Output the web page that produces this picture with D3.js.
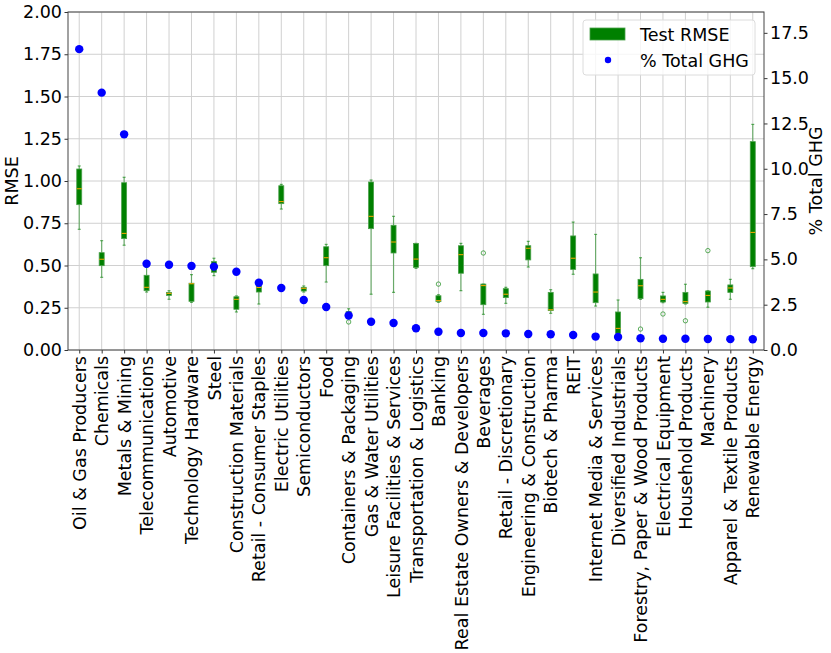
<!DOCTYPE html>
<html>
<head>
<meta charset="utf-8">
<script src="https://cdn.jsdelivr.net/npm/d3@7"></script>
<style>
  body { margin: 0; background: #fff; }
  text { font-family: "DejaVu Sans", sans-serif; }
</style>
</head>
<body>
<svg id="chart" width="831" height="653"></svg>
<script>
// sector names, in plotted order
var categories = [
  "Oil & Gas Producers", "Chemicals", "Metals & Mining", "Telecommunications",
  "Automotive", "Technology Hardware", "Steel", "Construction Materials",
  "Retail - Consumer Staples", "Electric Utilities", "Semiconductors", "Food",
  "Containers & Packaging", "Gas & Water Utilities", "Leisure Facilities & Services",
  "Transportation & Logistics", "Banking", "Real Estate Owners & Developers",
  "Beverages", "Retail - Discretionary", "Engineering & Construction",
  "Biotech & Pharma", "REIT", "Internet Media & Services", "Diversified Industrials",
  "Forestry, Paper & Wood Products", "Electrical Equipment", "Household Products",
  "Machinery", "Apparel & Textile Products", "Renewable Energy"
];

// box plot stats for test RMSE
var whiskerLow = [0.714, 0.43, 0.62, 0.343, 0.30, 0.282, 0.44, 0.225, 0.272, 0.834, 0.343, 0.402,
  0.19, 0.33, 0.341, 0.483, 0.282, 0.351, 0.211, 0.276, 0.491, 0.217, 0.448, 0.26, 0.08,
  0.30, 0.28, 0.272, 0.253, 0.30, 0.481];
var q1 = [0.86, 0.499, 0.659, 0.351, 0.323, 0.288, 0.46, 0.241, 0.343, 0.866, 0.349, 0.499,
  0.207, 0.718, 0.574, 0.489, 0.286, 0.454, 0.268, 0.31, 0.533, 0.233, 0.477, 0.28, 0.099,
  0.304, 0.284, 0.276, 0.284, 0.341, 0.493];
var medians = [0.954, 0.537, 0.69, 0.371, 0.335, 0.392, 0.49, 0.30, 0.37, 0.878, 0.365, 0.546,
  0.22, 0.791, 0.639, 0.538, 0.292, 0.564, 0.381, 0.33, 0.602, 0.238, 0.543, 0.343, 0.128,
  0.38, 0.30, 0.286, 0.323, 0.367, 0.696];
var q3 = [1.071, 0.576, 0.99, 0.442, 0.341, 0.395, 0.523, 0.315, 0.379, 0.972, 0.371, 0.611,
  0.227, 0.994, 0.738, 0.63, 0.321, 0.617, 0.39, 0.363, 0.617, 0.341, 0.675, 0.45, 0.225,
  0.418, 0.32, 0.341, 0.349, 0.385, 1.233];
var whiskerHigh = [1.089, 0.647, 1.022, 0.49, 0.351, 0.446, 0.543, 0.32, 0.385, 0.98, 0.379, 0.625,
  0.244, 1.006, 0.791, 0.631, 0.327, 0.631, 0.39, 0.371, 0.643, 0.357, 0.757, 0.684, 0.296,
  0.546, 0.341, 0.389, 0.351, 0.418, 1.335];
var fliers = [[], [], [], [], [], [], [], [], [], [], [], [],
  [0.166], [], [], [], [0.39], [], [0.574], [], [], [], [], [], [],
  [0.124], [0.213], [0.173], [0.588], [], []];

// share of total emissions, right axis
var ghg = [16.6, 14.2, 11.9, 4.76, 4.7, 4.64, 4.6, 4.32, 3.71, 3.42, 2.76, 2.37,
  1.9, 1.56, 1.49, 1.2, 1.01, 0.94, 0.94, 0.92, 0.88, 0.87, 0.83, 0.74, 0.72,
  0.65, 0.62, 0.62, 0.61, 0.6, 0.59];

var leftTicks = [0, 0.25, 0.5, 0.75, 1.0, 1.25, 1.5, 1.75, 2.0];
var rightTicks = [0, 2.5, 5, 7.5, 10, 12.5, 15, 17.5];

/* ========================================================================== */

var svg = d3.select("#chart");
var plotLeft = 68, plotRight = 764, plotTop = 12, plotBottom = 350;
var green = "#008000";
var fontSize = "17.5px";

var x = d3.scalePoint()
    .domain(categories)
    .range([plotLeft, plotRight])
    .padding(0.5);

var y = d3.scaleLinear().domain([0, 2]).range([plotBottom, plotTop]);
var y2 = d3.scaleLinear().domain([0, 18.65]).range([plotBottom, plotTop]);

// grid
var grid = svg.append("g");
grid.selectAll(".vgrid").data(categories).enter().append("line")
    .attr("x1", function (d) { return x(d); })
    .attr("x2", function (d) { return x(d); })
    .attr("y1", plotTop).attr("y2", plotBottom)
    .attr("stroke", "#d0d0d0").attr("stroke-width", 1);
grid.selectAll(".hgrid").data(leftTicks).enter().append("line")
    .attr("x1", plotLeft).attr("x2", plotRight)
    .attr("y1", function (d) { return y(d); })
    .attr("y2", function (d) { return y(d); })
    .attr("stroke", "#d0d0d0").attr("stroke-width", 1);

// boxes
var boxW = 5, capW = 3;
var boxes = svg.append("g").selectAll("g").data(categories).enter().append("g");

boxes.append("line")
    .attr("x1", function (d) { return x(d); })
    .attr("x2", function (d) { return x(d); })
    .attr("y1", function (d, i) { return y(whiskerLow[i]); })
    .attr("y2", function (d, i) { return y(q1[i]); })
    .attr("stroke", green).attr("stroke-opacity", 0.5).attr("stroke-width", 1.2);
boxes.append("line")
    .attr("x1", function (d) { return x(d); })
    .attr("x2", function (d) { return x(d); })
    .attr("y1", function (d, i) { return y(q3[i]); })
    .attr("y2", function (d, i) { return y(whiskerHigh[i]); })
    .attr("stroke", green).attr("stroke-opacity", 0.5).attr("stroke-width", 1.2);

[whiskerLow, whiskerHigh].forEach(function (arr) {
    boxes.append("line")
        .attr("x1", function (d) { return x(d) - capW / 2; })
        .attr("x2", function (d) { return x(d) + capW / 2; })
        .attr("y1", function (d, i) { return y(arr[i]); })
        .attr("y2", function (d, i) { return y(arr[i]); })
        .attr("stroke", green).attr("stroke-opacity", 0.6).attr("stroke-width", 1.2);
});

boxes.append("rect")
    .attr("x", function (d) { return x(d) - boxW / 2; })
    .attr("width", boxW)
    .attr("y", function (d, i) { return y(q3[i]); })
    .attr("height", function (d, i) { return Math.max(1, y(q1[i]) - y(q3[i])); })
    .attr("fill", green)
    .attr("stroke", "#4aa04a").attr("stroke-width", 0.8);

boxes.append("line")
    .attr("x1", function (d) { return x(d) - boxW / 2; })
    .attr("x2", function (d) { return x(d) + boxW / 2; })
    .attr("y1", function (d, i) { return y(medians[i]); })
    .attr("y2", function (d, i) { return y(medians[i]); })
    .attr("stroke", "#ffa500").attr("stroke-width", 1);

boxes.each(function (d, i) {
    d3.select(this).selectAll("circle").data(fliers[i]).enter().append("circle")
        .attr("cx", x(d))
        .attr("cy", function (v) { return y(v); })
        .attr("r", 2.2)
        .attr("fill", "none")
        .attr("stroke", green).attr("stroke-opacity", 0.7).attr("stroke-width", 0.9);
});

// GHG dots
svg.append("g").selectAll("circle").data(categories).enter().append("circle")
    .attr("cx", function (d) { return x(d); })
    .attr("cy", function (d, i) { return y2(ghg[i]); })
    .attr("r", 4.2)
    .attr("fill", "#0000ff");

// axes
var leftAxis = svg.append("g")
    .attr("transform", "translate(" + plotLeft + ",0)")
    .call(d3.axisLeft(y).tickValues(leftTicks).tickFormat(d3.format(".2f")).tickSize(3.5));
var rightAxis = svg.append("g")
    .attr("transform", "translate(" + plotRight + ",0)")
    .call(d3.axisRight(y2).tickValues(rightTicks).tickFormat(d3.format(".1f")).tickSize(3.5));
var bottomAxis = svg.append("g")
    .attr("transform", "translate(0," + plotBottom + ")")
    .call(d3.axisBottom(x).tickSize(3.5));

[leftAxis, rightAxis, bottomAxis].forEach(function (a) {
    a.select(".domain").remove();
    a.selectAll("line").attr("stroke", "#000").attr("stroke-width", 0.8);
    a.selectAll("text").attr("font-size", fontSize).attr("fill", "#000")
        .attr("font-family", "DejaVu Sans");
});
leftAxis.selectAll("text").attr("x", -6);
rightAxis.selectAll("text").attr("x", 6);

bottomAxis.selectAll("text")
    .attr("transform", "rotate(-90)")
    .attr("text-anchor", "end")
    .attr("x", -6)
    .attr("y", 0)
    .attr("dy", "0.35em");

// frame
svg.append("rect")
    .attr("x", plotLeft).attr("y", plotTop)
    .attr("width", plotRight - plotLeft).attr("height", plotBottom - plotTop)
    .attr("fill", "none").attr("stroke", "#444").attr("stroke-width", 1);

// axis titles
svg.append("text")
    .attr("transform", "translate(18," + (plotTop + plotBottom) / 2 + ") rotate(-90)")
    .attr("text-anchor", "middle")
    .attr("font-size", fontSize)
    .text("RMSE");
svg.append("text")
    .attr("transform", "translate(822," + (plotTop + plotBottom) / 2 + ") rotate(-90)")
    .attr("text-anchor", "middle")
    .attr("font-size", fontSize)
    .text("% Total GHG");

// legend
var legend = svg.append("g").attr("transform", "translate(583,20)");
legend.append("rect")
    .attr("width", 172).attr("height", 55).attr("rx", 3)
    .attr("fill", "#fff").attr("fill-opacity", 0.8)
    .attr("stroke", "#dcdcdc").attr("stroke-width", 1);
legend.append("rect")
    .attr("x", 7).attr("y", 8).attr("width", 35).attr("height", 12)
    .attr("fill", green).attr("stroke", "#4aa04a").attr("stroke-width", 0.8);
legend.append("text")
    .attr("x", 57).attr("y", 21)
    .attr("font-size", fontSize)
    .text("Test RMSE");
legend.append("circle")
    .attr("cx", 25).attr("cy", 40).attr("r", 3.2)
    .attr("fill", "#0000ff");
legend.append("text")
    .attr("x", 57).attr("y", 47)
    .attr("font-size", fontSize)
    .text("% Total GHG");
</script>
</body>
</html>
